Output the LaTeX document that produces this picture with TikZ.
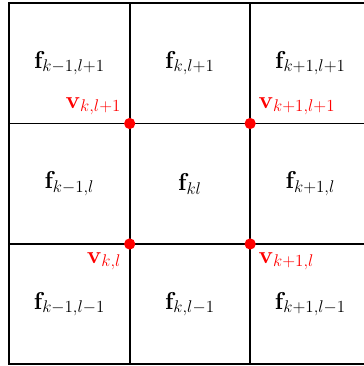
\documentclass[tikz,border=0pt]{standalone}
\usepackage{tikz}
\usetikzlibrary{positioning}
\definecolor{vred}{RGB}{255,0,0}

\begin{document}
\begin{tikzpicture}[
    face/.style={font=\fontsize{18.5}{22}\selectfont},
    vdot/.style={circle,fill=vred,minimum size=0.28cm,inner sep=0pt},
    vlabel/.style={font=\fontsize{18.5}{22}\selectfont,text=vred,inner sep=0pt}]
    \useasboundingbox (-0.229,-0.038) rectangle (8.81,9.075);
    % mesh
    \draw[line width=1.4pt] (0,0) grid[step=3] (9,9);
    \draw[line width=1.4pt] (0,0) rectangle (9,9);
    % faces
    \foreach \x/\y/\n/\t in {1.5/7.5/fa/{k-1,l+1},4.5/7.5/fb/{k,l+1},7.5/7.5/fc/{k+1,l+1},
      1.5/4.5/fd/{k-1,l},4.5/4.5/fe/{kl},7.5/4.5/ff/{k+1,l},
      1.5/1.5/fg/{k-1,l-1},4.5/1.5/fh/{k,l-1},7.5/1.5/fi/{k+1,l-1}}
      \node[face] (\n) at (\x,\y) {$\mathbf{f}_{\t}$};
    % vertices
    \node[vdot] (vtl) at (3,6) {};
    \node[vdot] (vtr) at (6,6) {};
    \node[vdot] (vbl) at (3,3) {};
    \node[vdot] (vbr) at (6,3) {};
    \node[vlabel,above left=0.1cm and 0.1cm of vtl] (ltl) {$\mathbf{v}_{k,l+1}$};
    \node[vlabel,above right=0.1cm and 0.1cm of vtr] (ltr) {$\mathbf{v}_{k+1,l+1}$};
    \node[vlabel,below left=0.1cm and 0.1cm of vbl] (lbl) {$\mathbf{v}_{k,l}$};
    \node[vlabel,below right=0.1cm and 0.1cm of vbr] (lbr) {$\mathbf{v}_{k+1,l}$};
\end{tikzpicture}
\end{document}
